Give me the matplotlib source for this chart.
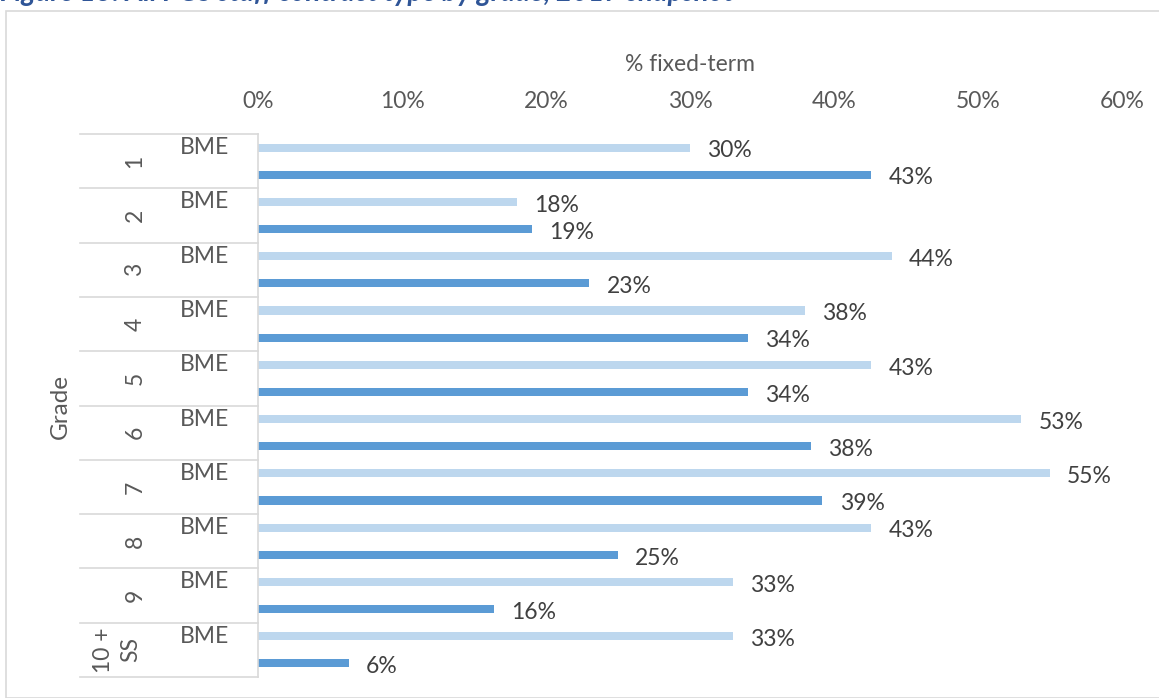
import matplotlib.pyplot as plt
import numpy as np

plt.rcParams['font.family'] = ['Lato', 'DejaVu Sans']

# data (fraction fixed-term)
grades = ["1", "2", "3", "4", "5", "6", "7", "8", "9", "10 +\nSS"]
bme = [0.30, 0.18, 0.44, 0.38, 0.426, 0.53, 0.55, 0.426, 0.33, 0.33]
other = [0.426, 0.19, 0.23, 0.34, 0.34, 0.384, 0.392, 0.25, 0.164, 0.063]
sub_labels = ["BME", ""]
xticks = [0, 0.1, 0.2, 0.3, 0.4, 0.5, 0.6]

light = "#BDD7EE"
dark = "#5B9BD5"
txt = "#595959"
fs = 16.5

W, H = 1159, 698
fig = plt.figure(figsize=(W / 100, H / 100), dpi=100)

# chart frame
fig.patches.append(plt.Rectangle((6 / W, 0), 1.2, 1 - 11 / H, transform=fig.transFigure,
                                 fill=False, edgecolor="#D9D9D9", linewidth=1.2))

# cropped caption at the very top (as in the source image)
fig.text(0.0, 1 - 1 / H, "Figure 13: All PGS staff contract type by grade, 2017 snapshot",
         fontsize=20, fontweight="bold", fontstyle="italic", color="#2F5597",
         ha="left", va="baseline")

ax = fig.add_axes([258 / W, 1 - 677 / H, (1122 - 258) / W, (677 - 134) / H])

n = len(grades)
y_bme = np.arange(n) * 2 + 0.5
y_oth = np.arange(n) * 2 + 1.5
ax.barh(y_bme, bme, height=0.3, color=light)
ax.barh(y_oth, other, height=0.3, color=dark)

for y, v in zip(y_bme, bme):
    ax.text(v + 0.012, y + 0.12, f"{v:.0%}", fontsize=fs, color="#404040", va="center", ha="left")
for y, v in zip(y_oth, other):
    ax.text(v + 0.012, y + 0.12, f"{v:.0%}", fontsize=fs, color="#404040", va="center", ha="left")

ax.set_xlim(0, 0.6)
ax.set_ylim(2 * n, 0)
ax.set_xticks(xticks)
ax.set_xticklabels([f"{t:.0%}" for t in xticks], fontsize=fs, color=txt)
ax.xaxis.tick_top()
ax.xaxis.set_label_position("top")
ax.set_xlabel("% fixed-term", fontsize=fs, color=txt, labelpad=14)
ax.tick_params(axis="x", length=0, pad=16)
ax.set_yticks([])
for s in ["top", "right", "bottom"]:
    ax.spines[s].set_visible(False)
ax.spines["left"].set_color("#D9D9D9")
ax.spines["left"].set_linewidth(1.2)

# category boxes and labels
ytr = ax.get_yaxis_transform()
x_box = (80 - 258) / (1122 - 258)
for k in range(n + 1):
    ax.plot([x_box, 0], [2 * k, 2 * k], transform=ytr, color="#D9D9D9", lw=1.2, clip_on=False)
for k, g in enumerate(grades):
    ax.text((205 - 258) / 864, y_bme[k], sub_labels[0], transform=ytr, fontsize=fs, color=txt,
            ha="center", va="center")
    gx = (135 - 258) / 864 if "\n" not in g else (117 - 258) / 864
    ax.text(gx, 2 * k + 1, g, transform=ytr, fontsize=fs, color=txt, rotation=90,
            ha="center", va="center", multialignment="center", linespacing=1.35)

fig.text(60 / W, 1 - 407 / H, "Grade", fontsize=fs + 1, color=txt, rotation=90, ha="center", va="center")

fig.savefig("out.png", dpi=100)
